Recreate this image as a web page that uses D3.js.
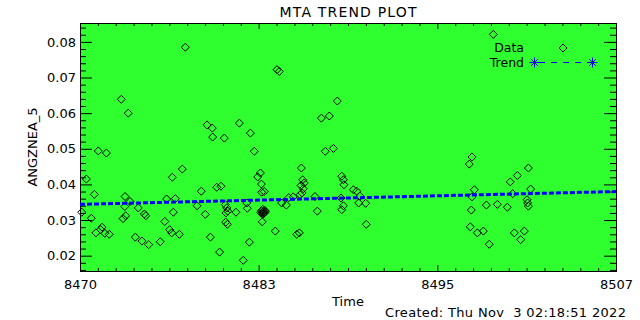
<!DOCTYPE html>
<html>
<head>
<meta charset="utf-8">
<script src="https://cdn.jsdelivr.net/npm/d3@7"></script>
<style>
  body { margin: 0; background: #fff; }
  text { font-family: "DejaVu Sans", sans-serif; fill: #000; }
</style>
</head>
<body>
<svg id="chart" width="640" height="320"></svg>
<script>
// time (x) and ANGZNEA_5 (y)
const timeVals = [
  8477.67, 8473.25, 8473.73, 8479.17, 8479.53, 8479.56, 8471.66, 8472.22, 8477.46, 8470.84,
  8476.77, 8471.39, 8478.77, 8473.51, 8476.38, 8476.98, 8473.85, 8478.48, 8470.52, 8474.42,
  8473.49, 8476.84, 8471.18, 8479.05, 8473.55, 8473.37, 8474.84, 8474.94, 8476.25, 8471.92,
  8471.83, 8471.50, 8472.11, 8472.42, 8476.59, 8476.73, 8477.26, 8479.40, 8474.22, 8474.68,
  8475.14, 8475.94, 8484.00, 8484.16, 8488.16, 8487.06, 8487.61, 8481.40, 8480.36, 8482.16,
  8482.43, 8487.33, 8487.89, 8485.68, 8482.85, 8482.67, 8482.92, 8479.84, 8480.13, 8482.94,
  8483.12, 8485.77, 8485.88, 8485.66, 8485.81, 8485.73, 8485.59, 8488.47, 8488.58, 8486.62,
  8484.81, 8485.12, 8484.32, 8484.64, 8481.91, 8481.95, 8488.42, 8488.58, 8488.47, 8480.43,
  8480.53, 8480.60, 8480.48, 8481.17, 8483.00, 8483.10, 8482.92, 8483.16, 8483.04, 8482.88,
  8483.20, 8483.02, 8483.08, 8482.96, 8482.98, 8486.78, 8480.46, 8480.57, 8483.88, 8485.36,
  8485.54, 8482.09, 8480.04, 8481.67, 8488.62, 8489.27, 8489.50, 8489.73, 8489.64, 8490.12,
  8490.16, 8497.46, 8497.27, 8497.62, 8497.46, 8497.41, 8497.34, 8497.83, 8498.93, 8501.35,
  8500.10, 8500.59, 8501.51, 8500.27, 8501.26, 8501.35, 8498.45, 8499.21, 8499.90, 8498.24,
  8498.65, 8500.38, 8501.07, 8500.82, 8501.30
]
const angVals = [
  0.0785, 0.0639, 0.0600, 0.0567, 0.0558, 0.0533, 0.0494, 0.0488, 0.0443, 0.0415,
  0.0420, 0.0372, 0.0381, 0.0366, 0.0359, 0.0360, 0.0352, 0.0340, 0.0322, 0.0334,
  0.0338, 0.0322, 0.0305, 0.0316, 0.0312, 0.0304, 0.0317, 0.0312, 0.0296, 0.0280,
  0.0273, 0.0264, 0.0263, 0.0260, 0.0273, 0.0264, 0.0260, 0.0252, 0.0252, 0.0241,
  0.0231, 0.0239, 0.0722, 0.0717, 0.0634, 0.0586, 0.0592, 0.0572, 0.0530, 0.0544,
  0.0493, 0.0493, 0.0501, 0.0446, 0.0432, 0.0421, 0.0401, 0.0392, 0.0395, 0.0378,
  0.0380, 0.0413, 0.0404, 0.0397, 0.0388, 0.0376, 0.0371, 0.0423, 0.0413, 0.0366,
  0.0363, 0.0365, 0.0348, 0.0342, 0.0348, 0.0333, 0.0362, 0.0340, 0.0329, 0.0343,
  0.0334, 0.0325, 0.0320, 0.0322, 0.0322, 0.0319, 0.0326, 0.0327, 0.0317, 0.0321,
  0.0323, 0.0330, 0.0324, 0.0318, 0.0295, 0.0325, 0.0294, 0.0288, 0.0269, 0.0260,
  0.0264, 0.0238, 0.0210, 0.0187, 0.0399, 0.0385, 0.0381, 0.0367, 0.0348, 0.0347,
  0.0288, 0.0477, 0.0457, 0.0385, 0.0365, 0.0328, 0.0281, 0.0264, 0.0821, 0.0446,
  0.0407, 0.0425, 0.0387, 0.0374, 0.0357, 0.0339, 0.0342, 0.0344, 0.0336, 0.0269,
  0.0232, 0.0264, 0.0269, 0.0245, 0.0348
]
const trendTime = [8470.4, 8507.4]
const trendVals = [0.0344, 0.0380]
const xTickVals = [8470.4, 8482.733, 8495.067, 8507.4]
const xTickLabels = ["8470", "8483", "8495", "8507"]
const yTickVals = [0.02, 0.03, 0.04, 0.05, 0.06, 0.07, 0.08]

const svg = d3.select("#chart")
const margin = { left: 80, right: 24, top: 23, bottom: 49 }
const W = 640, H = 320
const innerW = W - margin.left - margin.right
const innerH = H - margin.top - margin.bottom
const FONT = "DejaVu Sans, sans-serif"

const x = d3.scaleLinear().domain([8470.4, 8507.4]).range([margin.left, margin.left + innerW])
const y = d3.scaleLinear().domain([0.0157, 0.0853]).range([margin.top + innerH, margin.top])

// plot background
svg.append("rect")
  .attr("x", margin.left).attr("y", margin.top)
  .attr("width", innerW).attr("height", innerH)
  .attr("fill", "#2fff2f")

// minor tick values
const xMinor = []
for (let i = 0; i < xTickVals.length - 1; i++) {
  const step = (xTickVals[i + 1] - xTickVals[i]) / 10
  for (let k = 1; k < 10; k++) xMinor.push(xTickVals[i] + k * step)
}
const yMinor = d3.range(0.016, 0.0853, 0.002).filter(v => Math.abs(v * 100 - Math.round(v * 100)) > 1e-6)

const axes = svg.append("g").attr("class", "axes")

function tickAxis(axisFn, scale, vals, len, transform) {
  axes.append("g")
    .attr("transform", transform)
    .call(axisFn(scale).tickValues(vals).tickSize(len).tickSizeOuter(0).tickFormat(""))
    .call(g => g.select(".domain").remove())
    .call(g => g.selectAll("line").attr("stroke", "#000"))
}

// bottom / top
tickAxis(d3.axisBottom, x, xMinor, -3, `translate(0,${margin.top + innerH})`)
tickAxis(d3.axisTop, x, xMinor, -3, `translate(0,${margin.top})`)
tickAxis(d3.axisTop, x, xTickVals, -6, `translate(0,${margin.top})`)
// left / right minor
tickAxis(d3.axisLeft, y, yMinor, -6, `translate(${margin.left},0)`)
tickAxis(d3.axisRight, y, yMinor, -6, `translate(${margin.left + innerW},0)`)
tickAxis(d3.axisRight, y, yTickVals, -12, `translate(${margin.left + innerW},0)`)

// labelled axes
axes.append("g")
  .attr("transform", `translate(0,${margin.top + innerH})`)
  .call(d3.axisBottom(x).tickValues(xTickVals).tickSize(-6).tickSizeOuter(0)
    .tickPadding(9).tickFormat((d, i) => xTickLabels[i]))
  .call(g => g.select(".domain").remove())
  .call(g => g.selectAll("line").attr("stroke", "#000"))
  .call(g => g.selectAll("text").attr("font-size", 13).attr("font-family", FONT))

axes.append("g")
  .attr("transform", `translate(${margin.left},0)`)
  .call(d3.axisLeft(y).tickValues(yTickVals).tickSize(-12).tickSizeOuter(0)
    .tickPadding(4).tickFormat(d3.format(".2f")))
  .call(g => g.select(".domain").remove())
  .call(g => g.selectAll("line").attr("stroke", "#000"))
  .call(g => g.selectAll("text").attr("font-size", 13).attr("font-family", FONT))

// frame
svg.append("rect")
  .attr("x", margin.left + 0.5).attr("y", margin.top + 0.5)
  .attr("width", innerW).attr("height", innerH)
  .attr("fill", "none").attr("stroke", "#000").attr("stroke-width", 1)

// data diamonds
const diamond = "M0,-4L4,0L0,4L-4,0Z"
svg.append("g")
  .selectAll("path")
  .data(timeVals.map((t, i) => [t, angVals[i]]))
  .join("path")
  .attr("d", diamond)
  .attr("transform", d => `translate(${x(d[0])},${y(d[1])})`)
  .attr("fill", "none").attr("stroke", "#000").attr("stroke-width", 1)

// trend line
svg.append("path")
  .datum(trendTime.map((t, i) => [t, trendVals[i]]))
  .attr("d", d3.line().x(d => x(d[0])).y(d => y(d[1])))
  .attr("fill", "none").attr("stroke", "#0000ff").attr("stroke-width", 3)
  .attr("stroke-dasharray", "5,2")

// legend
const leg = svg.append("g")
leg.append("text").attr("x", 524).attr("y", 52).attr("text-anchor", "end").attr("font-size", 12.5).text("Data")
leg.append("text").attr("x", 524).attr("y", 67).attr("text-anchor", "end").attr("font-size", 12.5).text("Trend")
leg.append("path").attr("d", diamond).attr("transform", "translate(563,48)")
  .attr("fill", "none").attr("stroke", "#000")
leg.append("line").attr("x1", 534).attr("x2", 593).attr("y1", 62.5).attr("y2", 62.5)
  .attr("stroke", "#0000ff").attr("stroke-dasharray", "6,6").attr("stroke-dashoffset", -5)
function asterisk(cx, cy) {
  const r = 5
  for (let a = 0; a < 180; a += 45) {
    const rad = a * Math.PI / 180
    leg.append("line")
      .attr("x1", cx - r * Math.cos(rad)).attr("y1", cy - r * Math.sin(rad))
      .attr("x2", cx + r * Math.cos(rad)).attr("y2", cy + r * Math.sin(rad))
      .attr("stroke", "#0000ff").attr("stroke-width", 1)
  }
}
asterisk(534.5, 62.5)
asterisk(592.5, 62.5)

// titles
svg.append("text").attr("x", 348).attr("y", 17).attr("text-anchor", "middle")
  .attr("font-size", 14).attr("textLength", 137).text("MTA TREND PLOT")
svg.append("text").attr("transform", `translate(37,${margin.top + innerH / 2}) rotate(-90)`)
  .attr("text-anchor", "middle").attr("font-size", 13).text("ANGZNEA_5")
svg.append("text").attr("x", 348).attr("y", 306).attr("text-anchor", "middle")
  .attr("font-size", 13).text("Time")
svg.append("text").attr("x", 626).attr("y", 317).attr("text-anchor", "end")
  .attr("font-size", 13).attr("textLength", 241).style("white-space", "pre")
  .text("Created: Thu Nov  3 02:18:51 2022")
</script>
</body>
</html>
